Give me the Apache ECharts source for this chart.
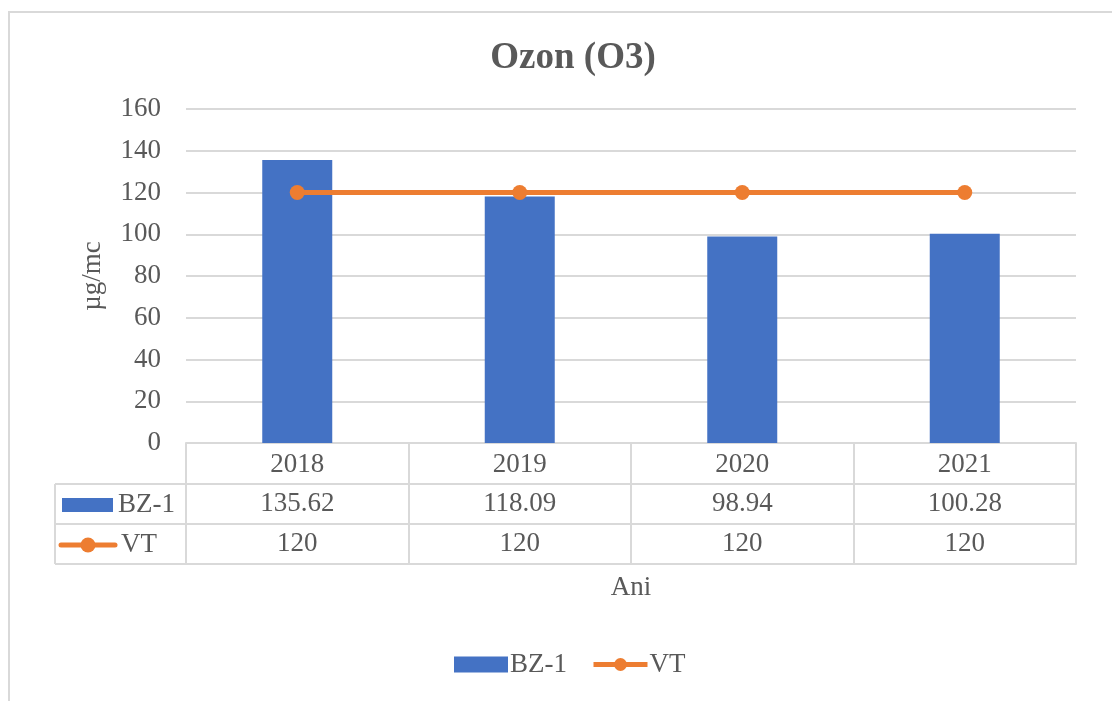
<!DOCTYPE html>
<html>
<head>
<meta charset="utf-8">
<style>
  html, body { margin: 0; padding: 0; background: #ffffff; }
  #chart { width: 1112px; height: 701px; }
</style>
<script src="https://cdn.jsdelivr.net/npm/echarts@6/dist/echarts.min.js"></script>
</head>
<body>
<div id="chart"></div>
<script>
// Annual ozone values per monitoring station and the target value
const years = ['2018', '2019', '2020', '2021'];
const bzValues = [135.62, 118.09, 98.94, 100.28];
const vtValues = [120, 120, 120, 120];
const seriesNames = ['BZ-1', 'VT'];
const yTicks = { min: 0, max: 160, interval: 20 };

const FONT = 'Liberation Serif';
const TEXT = '#595959';
const GRID = '#d9d9d9';
const BLUE = '#4472C4';
const ORANGE = '#ED7D31';
const FS = 27;

const chart = echarts.init(document.getElementById('chart'));

// Grid edges (pixels) and data-table row geometry
const gLeft = 186, gRight = 1076, gTop = 109, gBottom = 443;
const rowH = 41;
const tableLeft = 55;
const row1 = gBottom + rowH, row2 = row1 + 40, row3 = row2 + 40;

const textStyle = { fontFamily: FONT, fontSize: FS, color: TEXT };

const option = {
  animation: false,
  backgroundColor: '#ffffff',
  title: {
    text: 'Ozon (O3)',
    left: 568,
    top: 35,
    textAlign: 'center',
    textStyle: { fontFamily: FONT, fontSize: 37, fontWeight: 'bold', color: TEXT }
  },
  legend: {
    bottom: 18,
    left: 449,
    itemWidth: 54,
    itemHeight: 16,
    itemGap: 24,
    lineStyle: { width: 5 },
    textStyle: { fontFamily: FONT, fontSize: FS, color: TEXT, padding: [0, 0, 0, -3] },
    data: [
      { name: seriesNames[0], icon: 'rect' },
      { name: seriesNames[1] }
    ]
  },
  grid: { left: gLeft, right: 1112 - gRight, top: gTop, bottom: 701 - gBottom },
  xAxis: [
    {
      type: 'category',
      data: years,
      position: 'bottom',
      axisLine: { lineStyle: { color: GRID, width: 2 } },
      axisTick: { show: true, length: row3 - gBottom, lineStyle: { color: GRID, width: 2 } },
      axisLabel: Object.assign({ margin: 8 }, textStyle)
    },
    {
      type: 'category',
      data: years,
      position: 'bottom',
      offset: row1 - gBottom,
      axisLine: { lineStyle: { color: GRID, width: 2 } },
      axisTick: { show: false },
      axisLabel: Object.assign({ margin: 6, formatter: (v, i) => bzValues[i].toFixed(2) }, textStyle)
    },
    {
      type: 'category',
      data: years,
      position: 'bottom',
      offset: row2 - gBottom,
      axisLine: { lineStyle: { color: GRID, width: 2 } },
      axisTick: { show: false },
      axisLabel: Object.assign({ margin: 6, formatter: (v, i) => String(vtValues[i]) }, textStyle)
    },
    {
      type: 'category',
      data: years,
      position: 'bottom',
      offset: row3 - gBottom,
      axisLine: { lineStyle: { color: GRID, width: 2 } },
      axisTick: { show: false },
      axisLabel: { show: false },
      name: 'Ani',
      nameLocation: 'middle',
      nameGap: 10,
      nameTextStyle: textStyle
    }
  ],
  yAxis: {
    type: 'value',
    min: yTicks.min,
    max: yTicks.max,
    interval: yTicks.interval,
    axisLine: { show: false },
    axisTick: { show: false },
    splitLine: { lineStyle: { color: GRID, width: 2 } },
    axisLabel: Object.assign({ margin: 25 }, textStyle),
    name: 'µg/mc',
    nameLocation: 'middle',
    nameGap: 80,
    nameTextStyle: textStyle
  },
  series: [
    {
      name: seriesNames[0],
      type: 'bar',
      data: bzValues,
      barWidth: 70,
      itemStyle: { color: BLUE }
    },
    {
      name: seriesNames[1],
      type: 'line',
      data: vtValues,
      symbol: 'circle',
      symbolSize: 15,
      lineStyle: { color: ORANGE, width: 5 },
      itemStyle: { color: ORANGE }
    }
  ],
  graphic: [
    // outer chart frame
    { type: 'rect', shape: { x: 9, y: 12, width: 1200, height: 800 },
      style: { fill: 'none', stroke: GRID, lineWidth: 2 }, silent: true },
    // key column of the data table
    { type: 'line', shape: { x1: tableLeft, y1: row1, x2: gLeft, y2: row1 }, style: { stroke: GRID, lineWidth: 2 } },
    { type: 'line', shape: { x1: tableLeft, y1: row2, x2: gLeft, y2: row2 }, style: { stroke: GRID, lineWidth: 2 } },
    { type: 'line', shape: { x1: tableLeft, y1: row3, x2: gLeft, y2: row3 }, style: { stroke: GRID, lineWidth: 2 } },
    { type: 'line', shape: { x1: tableLeft, y1: row1, x2: tableLeft, y2: row3 }, style: { stroke: GRID, lineWidth: 2 } },
    { type: 'rect', shape: { x: 62, y: 498, width: 51, height: 14 }, style: { fill: BLUE } },
    { type: 'text', x: 118, y: (row1 + row2) / 2 + 1, style: { text: seriesNames[0], fontFamily: FONT, fontSize: FS, fill: TEXT, verticalAlign: 'middle' } },
    { type: 'line', shape: { x1: 61, y1: 545, x2: 115, y2: 545 }, style: { stroke: ORANGE, lineWidth: 5, lineCap: 'round' } },
    { type: 'circle', shape: { cx: 88, cy: 545, r: 7.5 }, style: { fill: ORANGE } },
    { type: 'text', x: 121, y: (row2 + row3) / 2 + 1, style: { text: seriesNames[1], fontFamily: FONT, fontSize: FS, fill: TEXT, verticalAlign: 'middle' } }
  ]
};

chart.setOption(option);
</script>
</body>
</html>
